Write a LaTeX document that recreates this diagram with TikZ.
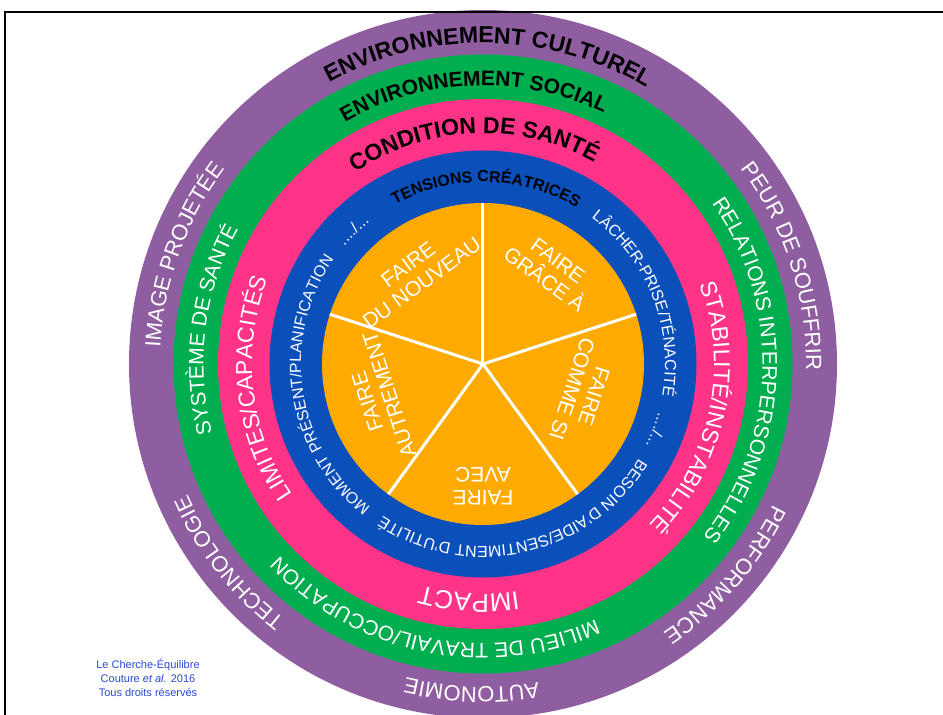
\documentclass[tikz,border=0pt]{standalone}
\usepackage{fontspec}
\setmainfont{Liberation Sans}
\usetikzlibrary{decorations.text}

\definecolor{ringpurple}{RGB}{143,94,160}
\definecolor{ringgreen}{RGB}{0,174,80}
\definecolor{ringpink}{RGB}{255,51,136}
\definecolor{ringblue}{RGB}{11,79,186}
\definecolor{coreorange}{RGB}{255,170,0}
\definecolor{creditblue}{RGB}{40,72,214}

% text along a circle, clockwise, centred on an angle
\newcommand{\ringlabel}[4]{%
  \path[decorate,decoration={text along path,text align=center,text={|#3|#4}}]
    (#2+90:#1) arc[start angle=#2+90,end angle=#2-90,radius=#1];}
\newcommand{\whitesize}[1]{\color{white}\fontsize{#1}{#1}\selectfont}
\newcommand{\blacksize}[1]{\color{black}\bfseries\fontsize{#1}{#1}\selectfont}

\tikzset{
  spoke/.style={white,line width=3pt},
  sectorlabel/.style={text=white,align=center,font=\fontsize{21}{23}\selectfont},
}

\begin{document}
\begin{tikzpicture}[x=1pt,y=1pt]
  \useasboundingbox (-483,-351) rectangle (460,364);
  % rings
  \fill[ringpurple] (0,0) circle (354);
  \fill[ringgreen] (0,0) circle (309.5);
  \fill[ringpink] (0,0) circle (265);
  \fill[ringblue] (0,0) circle (213.5);
  \fill[coreorange] (0,0) circle (161);
  \foreach \a in {90,18,-54,-126,162}
    \draw[spoke] (0,0) -- (\a:161);
  % core
  \node[sectorlabel,rotate=36] (nouveau) at (127:113) {FAIRE\\DU NOUVEAU};
  \node[sectorlabel,rotate=-36] (grace) at (54:116) {FAIRE\\GRÂCE À};
  \node[sectorlabel,rotate=-108] (commesi) at (-16:104) {FAIRE\\COMME SI};
  \node[sectorlabel,rotate=180] (avec) at (-90:122) {FAIRE\\AVEC};
  \node[sectorlabel,rotate=108] (autrement) at (198:110) {FAIRE\\AUTREMENT};
  % purple ring
  \ringlabel{321}{89}{\blacksize{23}}{ENVIRONNEMENT CULTUREL}
  \ringlabel{323}{18}{\whitesize{22}}{PEUR DE SOUFFRIR}
  \ringlabel{323}{-41}{\whitesize{22}}{PERFORMANCE}
  \ringlabel{323}{-92}{\whitesize{22}}{AUTONOMIE}
  \ringlabel{323}{218}{\whitesize{22}}{TECHNOLOGIE}
  \ringlabel{323}{160}{\whitesize{22}}{IMAGE PROJETÉE}
  % green ring
  \ringlabel{278.5}{92}{\blacksize{21}}{ENVIRONNEMENT SOCIAL}
  \ringlabel{279.5}{-1.5}{\whitesize{21}}{RELATIONS INTERPERSONNELLES}
  \ringlabel{279.5}{-101.5}{\whitesize{21}}{MILIEU DE TRAVAIL/OCCUPATION}
  \ringlabel{279.5}{172.7}{\whitesize{21}}{SYSTÈME DE SANTÉ}
  % pink ring
  \ringlabel{230.5}{92.4}{\blacksize{23}}{CONDITION DE SANTÉ}
  \ringlabel{231}{-12}{\whitesize{23}}{STABILITÉ/INSTABILITÉ}
  \ringlabel{230}{-93.5}{\whitesize{26}}{IMPACT}
  \ringlabel{231}{186.4}{\whitesize{23}}{LIMITES/CAPACITÉS}
  % blue ring
  \ringlabel{182}{89}{\blacksize{16}}{TENSIONS CRÉATRICES}
  \ringlabel{182}{21.7}{\whitesize{16}}{LÂCHER-PRISE/TÉNACITÉ}
  \ringlabel{182}{-21}{\whitesize{16}}{..../...}
  \ringlabel{182}{-77.3}{\whitesize{16}}{BESOIN D'AIDE/SENTIMENT D'UTILITÉ}
  \ringlabel{182}{188.4}{\whitesize{16}}{MOMENT PRÉSENT/PLANIFICATION}
  \ringlabel{182}{134}{\whitesize{16}}{..../...}
  % credit and frame
  \node[text=creditblue,align=center,font=\fontsize{11}{14}\selectfont] (credit) at (-335,-314)
    {Le Cherche-Équilibre\\Couture \textit{et al.} 2016\\Tous droits réservés};
  \draw[line width=2pt] (-478,-351) -- (-478,352) -- (460,352);
\end{tikzpicture}
\end{document}
